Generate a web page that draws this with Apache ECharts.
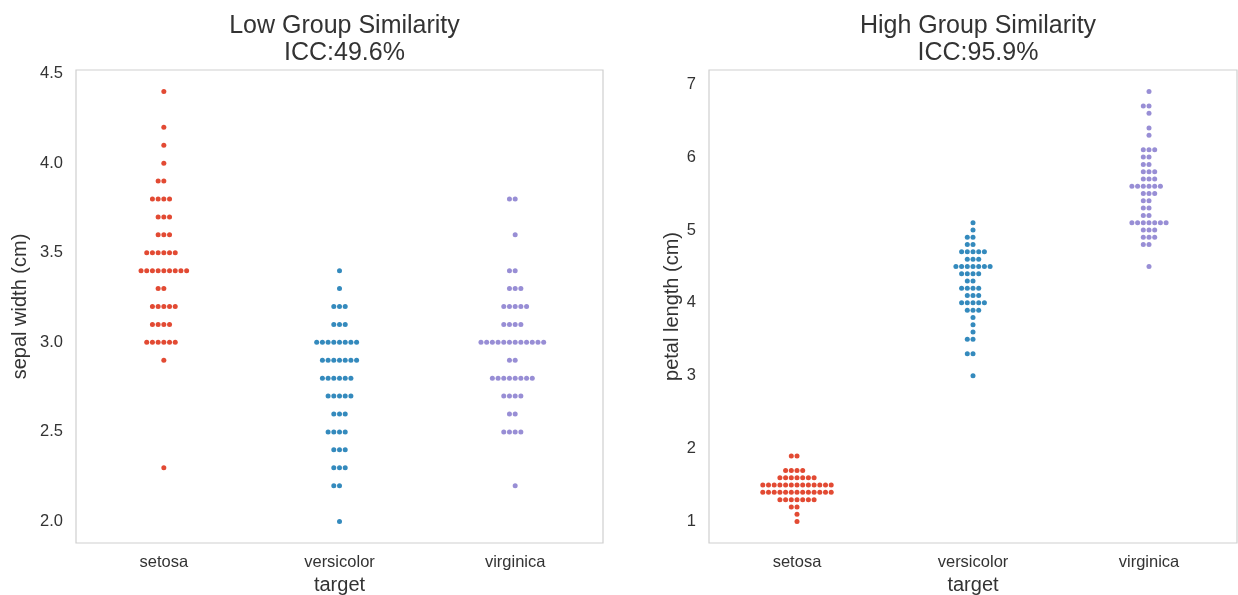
<!DOCTYPE html>
<html>
<head>
<meta charset="utf-8">
<title>Iris swarm plots</title>
<script src="https://cdn.jsdelivr.net/npm/echarts@6/dist/echarts.min.js"></script>
<style>
  html, body { margin: 0; padding: 0; background: #ffffff; }
  #chart { width: 1238px; height: 595px; }
</style>
</head>
<body>
<div id="chart"></div>
<script>
// Iris measurements, one array per species (cm)
const categories = ['setosa', 'versicolor', 'virginica'];

const setosaSepalWidth = [3.5,3.0,3.2,3.1,3.6,3.9,3.4,3.4,2.9,3.1,3.7,3.4,3.0,3.0,4.0,4.4,3.9,3.5,3.8,3.8,
  3.4,3.7,3.6,3.3,3.4,3.0,3.4,3.5,3.4,3.2,3.1,3.4,4.1,4.2,3.1,3.2,3.5,3.6,3.0,3.4,
  3.5,2.3,3.2,3.5,3.8,3.0,3.8,3.2,3.7,3.3];
const versicolorSepalWidth = [3.2,3.2,3.1,2.3,2.8,2.8,3.3,2.4,2.9,2.7,2.0,3.0,2.2,2.9,2.9,3.1,3.0,2.7,2.2,2.5,
  3.2,2.8,2.5,2.8,2.9,3.0,2.8,3.0,2.9,2.6,2.4,2.4,2.7,2.7,3.0,3.4,3.1,2.3,3.0,2.5,
  2.6,3.0,2.6,2.3,2.7,3.0,2.9,2.9,2.5,2.8];
const virginicaSepalWidth = [3.3,2.7,3.0,2.9,3.0,3.0,2.5,2.9,2.5,3.6,3.2,2.7,3.0,2.5,2.8,3.2,3.0,3.8,2.6,2.2,
  3.2,2.8,2.8,2.7,3.3,3.2,2.8,3.0,2.8,3.0,2.8,3.8,2.8,2.8,2.6,3.0,3.4,3.1,3.0,3.1,
  3.1,3.1,2.7,3.2,3.3,3.0,2.5,3.0,3.4,3.0];

const setosaPetalLength = [1.4,1.4,1.3,1.5,1.4,1.7,1.4,1.5,1.4,1.5,1.5,1.6,1.4,1.1,1.2,1.5,1.3,1.4,1.7,1.5,
  1.7,1.5,1.0,1.7,1.9,1.6,1.6,1.5,1.4,1.6,1.6,1.5,1.5,1.4,1.5,1.2,1.3,1.4,1.3,1.5,
  1.3,1.3,1.3,1.6,1.9,1.4,1.6,1.4,1.5,1.4];
const versicolorPetalLength = [4.7,4.5,4.9,4.0,4.6,4.5,4.7,3.3,4.6,3.9,3.5,4.2,4.0,4.7,3.6,4.4,4.5,4.1,4.5,3.9,
  4.8,4.0,4.9,4.7,4.3,4.4,4.8,5.0,4.5,3.5,3.8,3.7,3.9,5.1,4.5,4.5,4.7,4.4,4.1,4.0,
  4.4,4.6,4.0,3.3,4.2,4.2,4.2,4.3,3.0,4.1];
const virginicaPetalLength = [6.0,5.1,5.9,5.6,5.8,6.6,4.5,6.3,5.8,6.1,5.1,5.3,5.5,5.0,5.1,5.3,5.5,6.7,6.9,5.0,
  5.7,4.9,6.7,4.9,5.7,6.0,4.8,4.9,5.6,5.8,6.1,6.4,5.6,5.1,5.6,6.1,5.6,5.5,4.8,5.4,
  5.6,5.1,5.1,5.9,5.7,5.2,5.0,5.2,5.4,5.1];

const sepalTicks = [2.0, 2.5, 3.0, 3.5, 4.0, 4.5];
const petalTicks = [1, 2, 3, 4, 5, 6, 7];

const colors = ['#E24A33', '#348ABD', '#988ED5'];
const DOT_STEP = 5.7;   // horizontal spacing between neighbouring dots (px)
const TEXT = '#333333';
const FONT = '"Liberation Sans", Arial, sans-serif';

// Swarm placement: points sharing a value spread out sideways,
// alternating left / right of the category centre.
function swarm(values, catIndex) {
  const seen = {};
  return values.map(v => {
    const key = v.toFixed(2);
    const i = seen[key] || 0;
    seen[key] = i + 1;
    const k = i % 2 === 1 ? -(i + 1) / 2 : i / 2;
    return { value: [catIndex, v], symbolOffset: [k * DOT_STEP, 0] };
  });
}

function dotSeries(values, catIndex, gridIndex) {
  return {
    type: 'scatter',
    xAxisIndex: gridIndex,
    yAxisIndex: gridIndex,
    symbol: 'circle',
    symbolSize: 5,
    itemStyle: { color: colors[catIndex], opacity: 1 },
    silent: true,
    animation: false,
    data: swarm(values, catIndex)
  };
}

function catAxis(gridIndex) {
  return {
    type: 'category',
    gridIndex,
    data: categories,
    boundaryGap: true,
    name: 'target',
    nameLocation: 'middle',
    nameGap: 31,
    nameTextStyle: { fontFamily: FONT, fontSize: 20, color: TEXT },
    axisLine: { show: false },
    axisTick: { show: false },
    axisLabel: { fontFamily: FONT, fontSize: 16.5, color: TEXT, margin: 11 },
    splitLine: { show: false }
  };
}

function valAxis(gridIndex, name, min, max, ticks, digits, gap) {
  return {
    type: 'value',
    gridIndex,
    min, max,
    name,
    nameLocation: 'middle',
    nameGap: gap,
    nameTextStyle: { fontFamily: FONT, fontSize: 20, color: TEXT },
    axisLine: { show: false },
    axisTick: { show: false, customValues: ticks },
    axisLabel: {
      fontFamily: FONT, fontSize: 16.5, color: TEXT, margin: 13,
      customValues: ticks,
      formatter: v => Number(v).toFixed(digits)
    },
    splitLine: { show: false }
  };
}

const gridBase = {
  top: 70, bottom: 52, show: true,
  borderColor: '#cfcfcf', borderWidth: 1.2, backgroundColor: 'transparent',
  containLabel: false, outerBoundsMode: 'none'
};

const chart = echarts.init(document.getElementById('chart'), null, { renderer: 'canvas' });

chart.setOption({
  backgroundColor: '#ffffff',
  animation: false,
  title: [
    {
      text: 'Low Group Similarity\nICC:49.6%',
      left: 339.5, top: 8, textAlign: 'center',
      textStyle: { fontFamily: FONT, fontSize: 25, fontWeight: 'normal', color: TEXT, lineHeight: 27 }
    },
    {
      text: 'High Group Similarity\nICC:95.9%',
      left: 973, top: 8, textAlign: 'center',
      textStyle: { fontFamily: FONT, fontSize: 25, fontWeight: 'normal', color: TEXT, lineHeight: 27 }
    }
  ],
  grid: [
    Object.assign({ left: 76, right: 635 }, gridBase),
    Object.assign({ left: 709, right: 1 }, gridBase)
  ],
  xAxis: [catAxis(0), catAxis(1)],
  yAxis: [
    valAxis(0, 'sepal width (cm)', 1.88, 4.52, sepalTicks, 1, 46),
    valAxis(1, 'petal length (cm)', 0.705, 7.195, petalTicks, 0, 27)
  ],
  series: [
    dotSeries(setosaSepalWidth, 0, 0),
    dotSeries(versicolorSepalWidth, 1, 0),
    dotSeries(virginicaSepalWidth, 2, 0),
    dotSeries(setosaPetalLength, 0, 1),
    dotSeries(versicolorPetalLength, 1, 1),
    dotSeries(virginicaPetalLength, 2, 1)
  ]
});
</script>
</body>
</html>
